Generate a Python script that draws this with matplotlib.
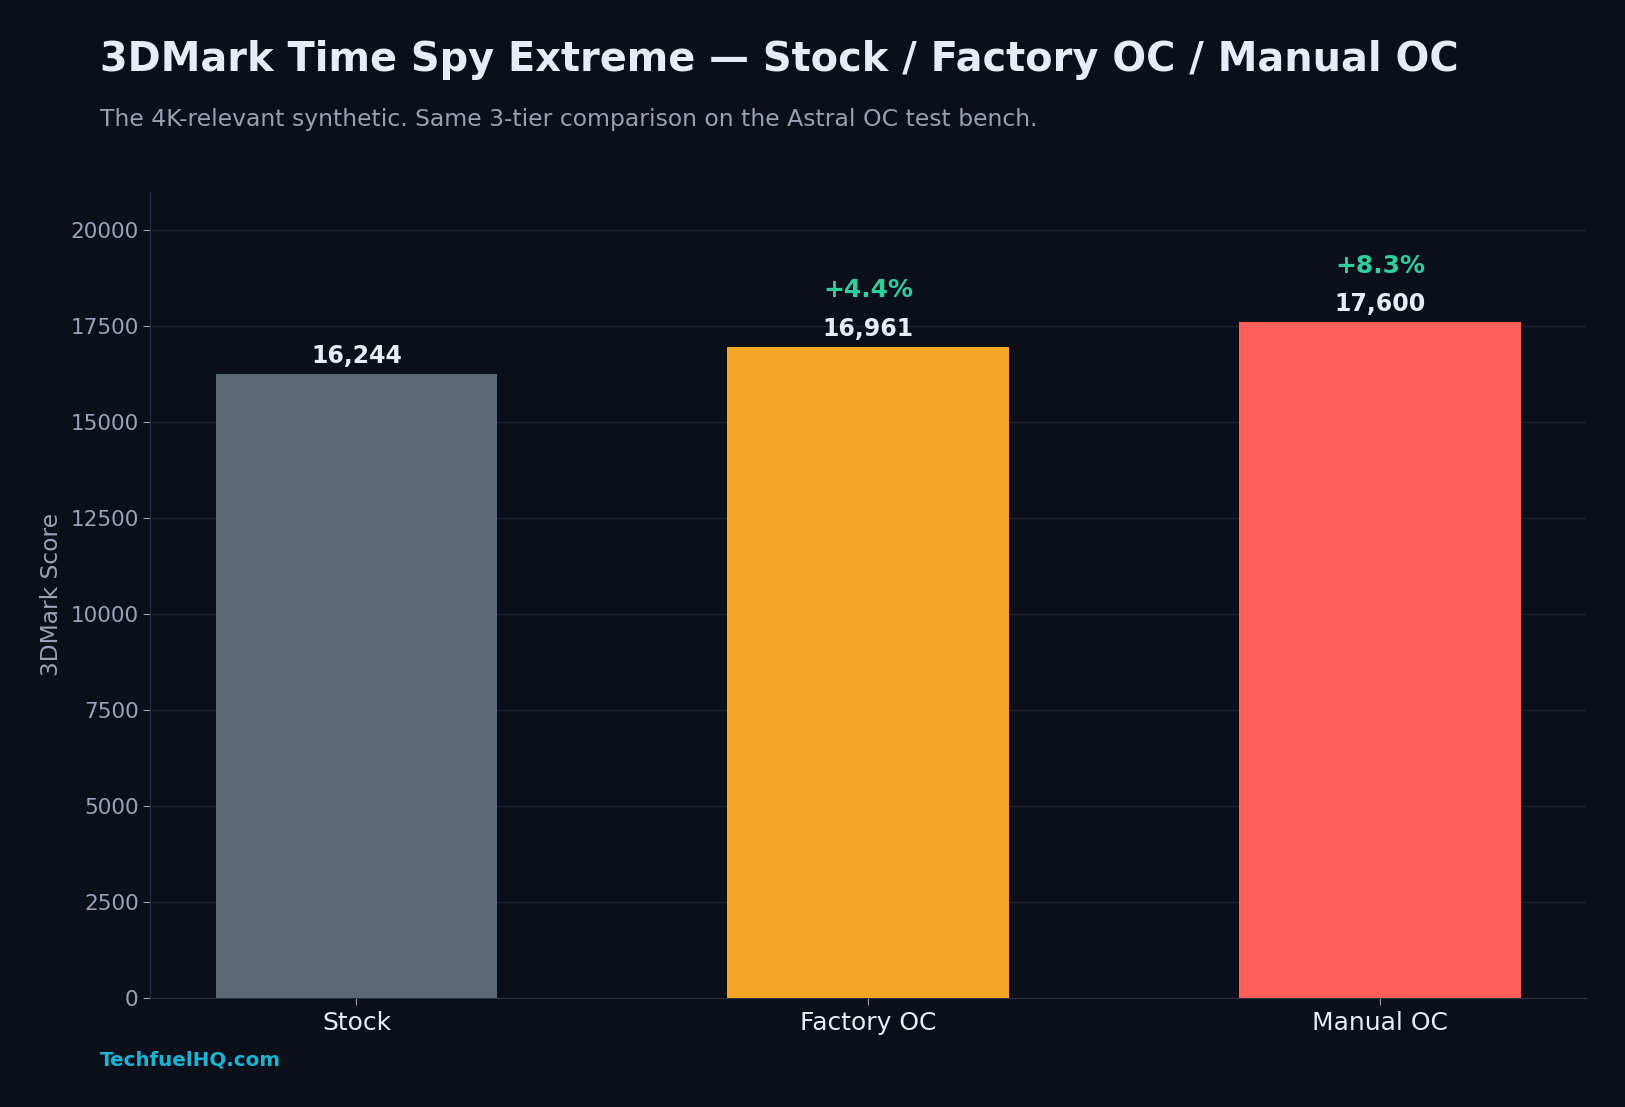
import matplotlib
matplotlib.use("Agg")
import matplotlib.pyplot as plt

# data
tiers = ["Stock", "Factory OC", "Manual OC"]
scores = [16244, 16961, 17600]
gains = [None, "+4.4%", "+8.3%"]
bar_colors = ["#5b6775", "#f4a627", "#ff5f59"]

bg = "#0b0f1a"
plt.rcParams["font.family"] = ["DejaVu Sans"]

fig = plt.figure(figsize=(16.25, 11.07), dpi=100, facecolor=bg)
ax = fig.add_axes([0.0926, 0.0985, 0.8834, 0.7285], facecolor=bg)

x = list(range(len(tiers)))
bars = ax.bar(x, scores, width=0.55, color=bar_colors, zorder=3)

ax.set_ylim(0, 21000)
ax.set_xticks(x)
ax.set_xticklabels(tiers, fontsize=18, color="#e8ecf6")
ax.tick_params(axis="y", labelsize=15.5, colors="#9aa3b5", length=5, color="#9aa3b5")
ax.tick_params(axis="x", length=5, color="#9aa3b5", pad=4.5)
ax.set_ylabel("3DMark Score", fontsize=16.8, color="#9aa3b5", labelpad=5)

ax.grid(axis="y", color="#1c2230", linewidth=1, zorder=0)
for side in ["top", "right"]:
    ax.spines[side].set_visible(False)
for side in ["left", "bottom"]:
    ax.spines[side].set_color("#2a3142")

# value + uplift labels
for b, s, g in zip(bars, scores, gains):
    cx = b.get_x() + b.get_width() / 2
    ax.annotate(f"{s:,}", (cx, s), xytext=(0, 8), textcoords="offset points",
                ha="center", va="baseline", fontsize=17, fontweight="bold",
                color="#e8ecf6")
    if g:
        ax.annotate(g, (cx, s), xytext=(0, 35.5), textcoords="offset points",
                    ha="center", va="baseline", fontsize=18, fontweight="bold",
                    color="#2ecf9c")

fig.text(0.0615, 0.936, "3DMark Time Spy Extreme \u2014 Stock / Factory OC / Manual OC",
         fontsize=28.7, fontweight="bold", color="#e8ecf8", va="baseline")
fig.text(0.0615, 0.886, "The 4K-relevant synthetic. Same 3-tier comparison on the Astral OC test bench.",
         fontsize=16.9, color="#9aa0b0", va="baseline")
fig.text(0.0615, 0.0377, "TechfuelHQ.com", fontsize=14.3, fontweight="bold",
         color="#19b3d3", va="baseline")

fig.savefig("out.png", dpi=100, facecolor=bg)
